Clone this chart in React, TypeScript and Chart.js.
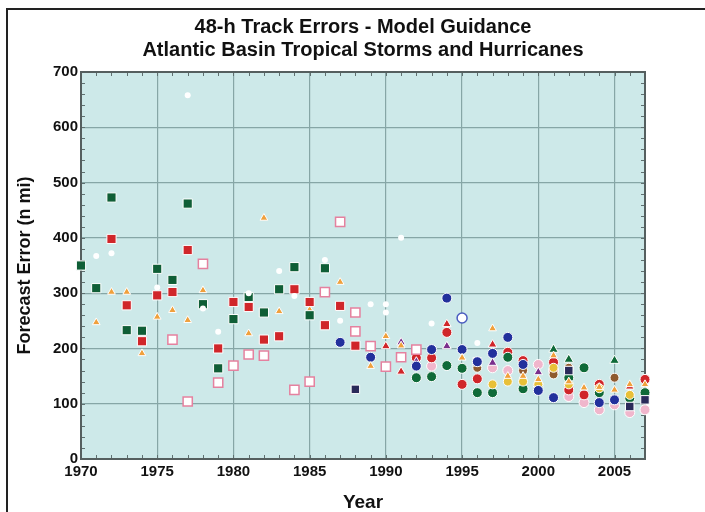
import { useEffect, useRef } from "react";
import { Chart, registerables } from "chart.js";
Chart.register(...registerables);

const titleLines = ["48-h Track Errors - Model Guidance", "Atlantic Basin Tropical Storms and Hurricanes"];
const xTickYears = [1970, 1975, 1980, 1985, 1990, 1995, 2000, 2005];
const yTickVals = [0, 100, 200, 300, 400, 500, 600, 700];

const whiteYears = [1971, 1972, 1975, 1977, 1978, 1979, 1981, 1983, 1984, 1986, 1987, 1989, 1990, 1990, 1991, 1993, 1996];
const whiteVals = [367, 372, 310, 658, 272, 230, 300, 340, 295, 360, 250, 280, 280, 265, 400, 245, 210];

const greenSqYears = [1970, 1971, 1972, 1973, 1974, 1975, 1976, 1977, 1978, 1979, 1980, 1981, 1982, 1983, 1984, 1985, 1986];
const greenSqVals = [350, 309, 473, 233, 232, 344, 324, 462, 280, 164, 253, 293, 265, 307, 347, 260, 345];
const greenDotYears = [1992, 1993, 1994, 1995, 1996, 1997, 1998, 1999, 2000, 2002, 2003, 2004, 2006, 2007];
const greenDotVals = [147, 149, 169, 164, 120, 120, 184, 127, 133, 147, 165, 120, 110, 120];
const greenTriYears = [2001, 2002, 2005];
const greenTriVals = [198, 180, 178];

const redSqYears = [1972, 1973, 1974, 1975, 1976, 1977, 1979, 1980, 1981, 1982, 1983, 1984, 1985, 1986, 1987, 1988];
const redSqVals = [398, 278, 213, 296, 302, 378, 200, 284, 275, 216, 222, 307, 284, 242, 277, 205];
const redDotYears = [1992, 1993, 1994, 1995, 1996, 1998, 1999, 2001, 2002, 2003, 2004, 2007];
const redDotVals = [183, 183, 229, 135, 145, 193, 178, 175, 125, 116, 135, 144];
const redTriYears = [1990, 1991, 1994, 1997, 2006];
const redTriVals = [204, 158, 244, 207, 131];

const orangeYears = [1971, 1972, 1973, 1974, 1975, 1976, 1977, 1978, 1981, 1982, 1983, 1985, 1987, 1989, 1990, 1991, 1995, 1997, 1998, 1999, 2000, 2001, 2002, 2003, 2004, 2005, 2006, 2007];
const orangeVals = [247, 302, 302, 191, 257, 269, 251, 305, 227, 436, 267, 270, 320, 168, 222, 205, 183, 236, 150, 150, 144, 187, 140, 129, 130, 125, 135, 135];

const openSqYears = [1976, 1977, 1978, 1979, 1980, 1981, 1982, 1984, 1985, 1986, 1987, 1988, 1988, 1989, 1990, 1991, 1992];
const openSqVals = [216, 104, 353, 138, 169, 189, 187, 125, 140, 302, 429, 265, 231, 204, 167, 184, 198];

const blueYears = [1987, 1989, 1992, 1993, 1994, 1995, 1996, 1997, 1998, 1999, 2000, 2001, 2004, 2005];
const blueVals = [211, 184, 168, 198, 291, 198, 176, 191, 220, 171, 124, 111, 102, 107];
const openBlueYears = [1995];
const openBlueVals = [255];
const purpleYears = [1991, 1992, 1994, 1997, 2000];
const purpleVals = [211, 176, 204, 174, 157];
const navyYears = [1988, 1996, 2002, 2005, 2006, 2007];
const navyVals = [126, 176, 160, 107, 95, 107];
const pinkYears = [1993, 1997, 1998, 2000, 2001, 2002, 2003, 2004, 2005, 2006, 2007];
const pinkVals = [168, 165, 160, 171, 160, 113, 102, 89, 98, 84, 89];
const yellowYears = [1997, 1998, 1999, 2000, 2001, 2002, 2004, 2006];
const yellowVals = [135, 140, 140, 135, 165, 135, 128, 116];
const brownYears = [1996, 1999, 2001, 2002, 2005];
const brownVals = [165, 160, 153, 165, 147];

const FONT = "'Liberation Sans', Arial, Helvetica, sans-serif";

function pts(xs: number[], ys: number[]) {
  return xs.map((x, i) => ({ x, y: ys[i] }));
}

function ds(xs: number[], ys: number[], color: string, style: string, radius: number, border = "#ffffff", bw = 1) {
  return {
    data: pts(xs, ys),
    backgroundColor: color,
    borderColor: border,
    borderWidth: bw,
    pointStyle: style,
    pointRadius: radius,
    showLine: false,
    clip: false,
  };
}

const framePlugin = {
  id: "frame",
  beforeDraw(chart: any) {
    const { ctx, width, height, chartArea } = chart;
    ctx.save();
    ctx.fillStyle = "#ffffff";
    ctx.fillRect(0, 0, width, height);
    ctx.strokeStyle = "#222";
    ctx.lineWidth = 2;
    ctx.beginPath();
    ctx.moveTo(7, height);
    ctx.lineTo(7, 9);
    ctx.lineTo(width, 9);
    ctx.stroke();
    ctx.fillStyle = "#cde9e9";
    ctx.fillRect(chartArea.left, chartArea.top, chartArea.right - chartArea.left, chartArea.bottom - chartArea.top);
    ctx.restore();
  },
  beforeDatasetsDraw(chart: any) {
    const { ctx, chartArea, scales } = chart;
    const { left, right, top, bottom } = chartArea;
    ctx.save();
    ctx.strokeStyle = "#5f7070";
    ctx.lineWidth = 1;
    ctx.beginPath();
    for (let v = scales.x.min; v <= scales.x.max; v += 1) {
      const px = Math.round(scales.x.getPixelForValue(v)) + 0.5;
      ctx.moveTo(px, bottom);
      ctx.lineTo(px, bottom - 4);
      ctx.moveTo(px, top);
      ctx.lineTo(px, top + 4);
    }
    for (let v = scales.y.min; v <= scales.y.max; v += 20) {
      const py = Math.round(scales.y.getPixelForValue(v)) + 0.5;
      ctx.moveTo(left, py);
      ctx.lineTo(left + 4, py);
      ctx.moveTo(right, py);
      ctx.lineTo(right - 4, py);
    }
    ctx.stroke();
    ctx.strokeStyle = "#555f5f";
    ctx.lineWidth = 2;
    ctx.strokeRect(left, top, right - left, bottom - top);
    ctx.restore();
  },
};

export default function App() {
  const ref = useRef<HTMLCanvasElement | null>(null);
  useEffect(() => {
    if (!ref.current) return;
    const chart = new Chart(ref.current, {
      type: "scatter",
      data: {
        datasets: [
          ds(whiteYears, whiteVals, "#ffffff", "circle", 3, "#ffffff", 0),
          ds(openSqYears, openSqVals, "#ffffff", "rect", 6.5, "#e5819f", 1.5),
          ds(greenSqYears, greenSqVals, "#0f5e36", "rect", 6.5),
          ds(redSqYears, redSqVals, "#d0262a", "rect", 6.5),
          ds(orangeYears, orangeVals, "#f0a03c", "triangle", 4.5),
          ds(openBlueYears, openBlueVals, "#ffffff", "circle", 5, "#4a5cc0", 1.5),
          ds(blueYears, blueVals, "#22309c", "circle", 5),
          ds(purpleYears, purpleVals, "#7a2f8c", "triangle", 5),
          ds(navyYears, navyVals, "#2a2a5a", "rect", 6),
          ds(yellowYears, yellowVals, "#e8c038", "circle", 4.5),
          ds(brownYears, brownVals, "#8f5a2e", "circle", 4.5),
          ds(greenDotYears, greenDotVals, "#0f6a38", "circle", 5),
          ds(greenTriYears, greenTriVals, "#0f6a38", "triangle", 5.5),
          ds(redDotYears, redDotVals, "#d0262a", "circle", 5),
          ds(redTriYears, redTriVals, "#d0262a", "triangle", 5),
          ds(pinkYears, pinkVals, "#f0b6cc", "circle", 5),
        ] as any,
      },
      options: {
        animation: false,
        responsive: false,
        maintainAspectRatio: false,
        layout: { padding: { left: 0, right: 60, top: 0, bottom: 0 } },
        plugins: {
          legend: { display: false },
          tooltip: { enabled: false },
          title: {
            display: true,
            fullSize: false,
            text: titleLines,
            color: "#111",
            font: { family: FONT, size: 20, weight: "bold", lineHeight: 1.15 },
            padding: { top: 16, bottom: 10 },
          },
        },
        scales: {
          x: {
            type: "linear",
            min: 1970,
            max: 2007,
            afterBuildTicks: (s: any) => {
              s.ticks = xTickYears.map((v) => ({ value: v }));
            },
            afterFit: (s: any) => {
              s.height = 53;
            },
            ticks: {
              color: "#111",
              font: { family: FONT, size: 15, weight: "bold" },
              padding: 4,
              maxRotation: 0,
              autoSkip: false,
              callback: (v: any) => String(v),
            },
            grid: { color: "#86a6a6", lineWidth: 1.2, drawTicks: false },
            border: { display: false },
            title: {
              display: true,
              text: "Year",
              color: "#111",
              font: { family: FONT, size: 19, weight: "bold" },
              padding: { top: 0, bottom: -2 },
            },
          },
          y: {
            type: "linear",
            min: 0,
            max: 700,
            afterBuildTicks: (s: any) => {
              s.ticks = yTickVals.map((v) => ({ value: v }));
            },
            afterFit: (s: any) => {
              s.width = 81;
            },
            ticks: {
              color: "#111",
              font: { family: FONT, size: 15, weight: "bold" },
              padding: 3,
              autoSkip: false,
              callback: (v: any) => String(v),
            },
            grid: { color: "#86a6a6", lineWidth: 1.2, drawTicks: false },
            border: { display: false },
            title: {
              display: true,
              text: "Forecast Error (n mi)",
              color: "#111",
              font: { family: FONT, size: 18, weight: "bold" },
              padding: { top: 14, bottom: 0 },
            },
          },
        },
      },
      plugins: [framePlugin],
    });
    return () => chart.destroy();
  }, []);
  return (
    <div style={{ position: "fixed", left: 0, top: 0, width: 705, height: 512 }}>
      <canvas ref={ref} width={705} height={512} style={{ width: 705, height: 512, display: "block" }} />
    </div>
  );
}
